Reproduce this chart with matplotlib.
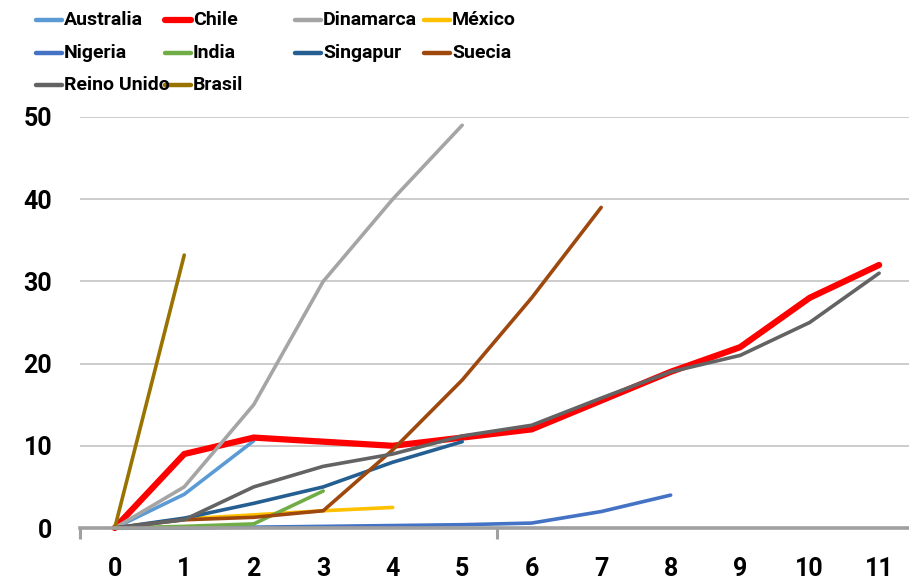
import matplotlib.pyplot as plt
from matplotlib.lines import Line2D

plt.rcParams['font.family'] = ['Roboto', 'DejaVu Sans']
plt.rcParams['font.weight'] = 'bold'

# series, in the order they are drawn (and listed in the legend)
names = ["Australia", "Chile", "Dinamarca", "México", "Nigeria",
         "India", "Singapur", "Suecia", "Reino Unido", "Brasil"]
australia = [0, 4.1, 10.6]
chile = [0, 9, 11, 10.5, 10, 11, 12, 15.5, 19, 22, 28, 32]
dinamarca = [0, 5, 15, 30, 40, 49]
mexico = [0, 1.1, 1.6, 2.1, 2.5]
nigeria = [0, 0, 0.1, 0.2, 0.3, 0.4, 0.6, 2, 4]
india = [0, 0.2, 0.5, 4.5]
singapur = [0, 1.2, 3, 5, 8, 10.5]
suecia = [0, 1, 1.3, 2.1, 9.5, 18, 28, 39]
reino_unido = [0, 1, 5, 7.5, 9, 11.2, 12.5, 15.8, 19, 21, 25, 31]
brasil = [0, 33.2]
series = [australia, chile, dinamarca, mexico, nigeria,
          india, singapur, suecia, reino_unido, brasil]

colors = ["#5B9BD5", "#FF0000", "#A5A5A5", "#FFC000", "#4472C4",
          "#70AD47", "#255E91", "#9E480E", "#636363", "#997300"]
widths = [2.6, 4.5, 2.6, 2.6, 2.6, 2.6, 2.6, 2.6, 2.6, 2.6]

x_labels = [str(i) for i in range(12)]
y_ticks = [0, 10, 20, 30, 40, 50]

W, H = 909, 582
fig = plt.figure(figsize=(W / 100, H / 100), dpi=100)
ax = fig.add_axes([80 / W, 54 / H, 1 - 80 / W, (528 - 117) / H])

for vals, c, w in zip(series, colors, widths):
    ax.plot(range(len(vals)), vals, color=c, lw=w, solid_capstyle='round',
            solid_joinstyle='round', clip_on=False)

ax.set_xlim(-0.5, 11.43)
ax.set_ylim(0, 50)
ax.set_yticks(y_ticks)
ax.set_yticklabels([str(v) for v in y_ticks], fontsize=18, fontweight='bold')
ax.yaxis.grid(True, color='#C8C8C8', lw=1.3)
ax.set_axisbelow(True)
ax.tick_params(axis='y', length=0, pad=20)

# category labels without ticks, ticks every 6 categories between labels
ax.set_xticks(range(12))
ax.set_xticklabels(x_labels, fontsize=18, fontweight='bold')
ax.tick_params(axis='x', length=0, pad=21)
ax.set_xticks([-0.5, 5.5], minor=True)
ax.tick_params(axis='x', which='minor', length=8, width=2.2, color='#A0A0A0')

for s in ['top', 'right', 'left']:
    ax.spines[s].set_visible(False)
ax.spines['bottom'].set_color('#A0A0A0')
ax.spines['bottom'].set_linewidth(2.6)

# legend laid out row by row, four columns
col_x = [36, 165, 295, 424]
row_y = [20, 53, 85]
for i, name in enumerate(names):
    x0 = col_x[i % 4]
    y0 = 1 - row_y[i // 4] / H
    fig.add_artist(Line2D([x0 / W, (x0 + 26) / W], [y0, y0], color=colors[i],
                          lw=3.2 if i != 1 else 4.5, solid_capstyle='round',
                          transform=fig.transFigure))
    fig.text((x0 + 28) / W, y0, name, fontsize=14, fontweight='bold',
             va='center', ha='left')

fig.savefig("out.png", dpi=100)
